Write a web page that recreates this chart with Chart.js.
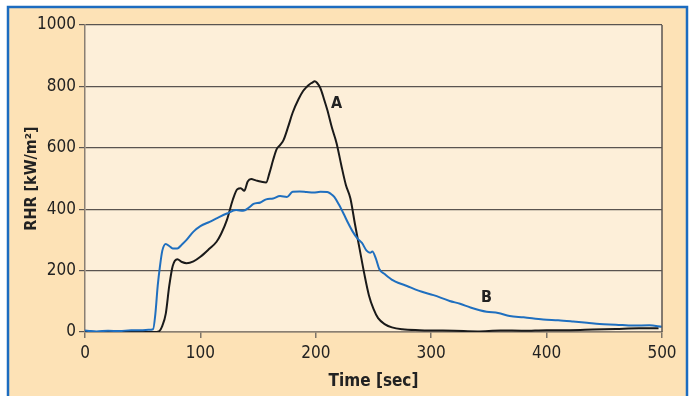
<!DOCTYPE html>
<html>
<head>
<meta charset="utf-8">
<script src="https://cdn.jsdelivr.net/npm/chart.js@4.4.1/dist/chart.umd.min.js"></script>
<style>
  html, body { margin: 0; padding: 0; background: #fff; }
  #wrap { width: 691px; height: 396px; }
</style>
</head>
<body>
<div id="wrap"><canvas id="chart" width="691" height="396"></canvas></div>
<script>
// DATI
const timeA = [0, 20, 40, 60, 64, 67, 70, 73, 76, 80, 84, 88, 94, 100, 108, 114, 118, 123, 128, 132, 135, 138, 141, 144, 148, 152, 157, 160, 163, 166, 169, 172, 176, 180, 185, 189, 192, 195, 197, 199, 201, 204, 207, 210, 214, 218, 222, 226, 230, 234, 238, 242, 246, 250, 254, 260, 266, 275, 290, 300, 320, 340, 360, 380, 400, 420, 440, 460, 480, 497];
const rhrA  = [0, 0, 0, 0, 2, 20, 60, 150, 215, 237, 228, 224, 230, 245, 272, 294, 320, 365, 430, 465, 468, 460, 490, 498, 494, 490, 487, 520, 560, 595, 609, 625, 668, 715, 758, 785, 798, 808, 812, 817, 812, 794, 760, 723, 665, 615, 545, 480, 435, 350, 270, 190, 120, 75, 45, 25, 15, 9, 6, 5, 4, 2, 5, 4, 6, 6, 8, 10, 12, 12];

const timeB = [0, 5, 10, 20, 30, 40, 50, 55, 59, 61, 63, 65, 67, 70, 73, 76, 80, 84, 88, 94, 100, 108, 115, 123, 131, 137, 142, 146, 152, 157, 163, 169, 175, 180, 186, 192, 198, 204, 210, 213, 216, 220, 224, 228, 232, 236, 240, 244, 247, 249, 252, 255, 260, 267, 273, 279, 286, 292, 302, 316, 325, 334, 348, 358, 368, 380, 397, 410, 423, 435, 446, 460, 475, 489, 500];
const rhrB  = [5, 3, 2, 4, 3, 6, 6, 7, 9, 60, 150, 215, 265, 287, 280, 272, 272, 285, 300, 327, 345, 359, 372, 386, 397, 395, 405, 417, 422, 432, 435, 443, 440, 457, 458, 456, 454, 457, 456, 450, 440, 415, 386, 355, 327, 305, 290, 265, 258, 262, 240, 205, 188, 168, 158, 150, 139, 131, 120, 101, 92, 80, 66, 62, 52, 48, 41, 38, 34, 30, 26, 24, 21, 22, 17];

const curveNames = ['A', 'B'];
const nameTime = [218, 348];
const nameRhr = [743, 111];

const xTicks = [0, 100, 200, 300, 400, 500];
const yTicks = [0, 200, 400, 600, 800, 1000];

const FONT = "'Liberation Sans Narrow', 'DejaVu Sans Condensed', 'Liberation Sans', sans-serif";

function toPoints(xs, ys) {
    return xs.map((x, i) => ({ x: x, y: ys[i] }));
}

// SFONDO E CORNICE
const framePlugin = {
    id: 'frame',
    beforeDraw(chart) {
        const c = chart.ctx;
        const a = chart.chartArea;
        c.save();
        c.fillStyle = '#ffffff';
        c.fillRect(0, 0, chart.width, chart.height);
        c.fillStyle = '#fde2b6';
        c.fillRect(8, 7, 679, chart.height - 7);
        c.strokeStyle = '#1c6cc0';
        c.lineWidth = 2.5;
        c.beginPath();
        c.moveTo(8, chart.height);
        c.lineTo(8, 7);
        c.lineTo(687, 7);
        c.lineTo(687, chart.height);
        c.stroke();
        c.fillStyle = '#fdefd9';
        c.fillRect(a.left, a.top, a.right - a.left, a.bottom - a.top);
        c.restore();
    },
    afterDraw(chart) {
        const c = chart.ctx;
        const a = chart.chartArea;
        c.save();
        c.strokeStyle = '#5a5450';
        c.lineWidth = 1.5;
        c.beginPath();
        c.moveTo(a.right, a.top);
        c.lineTo(a.right, a.bottom);
        c.stroke();
        c.restore();
    }
};

// ETICHETTE A / B
const namePlugin = {
    id: 'names',
    afterDatasetsDraw(chart) {
        const c = chart.ctx;
        const xs = chart.scales.x, ys = chart.scales.y;
        c.save();
        c.fillStyle = '#222';
        c.font = 'bold 16px ' + FONT;
        c.textAlign = 'center';
        c.textBaseline = 'middle';
        curveNames.forEach((n, i) => {
            c.fillText(n, xs.getPixelForValue(nameTime[i]), ys.getPixelForValue(nameRhr[i]));
        });
        c.restore();
    }
};

const ctx = document.getElementById('chart').getContext('2d');
new Chart(ctx, {
    type: 'line',
    data: {
        datasets: [
            {
                label: 'B',
                data: toPoints(timeB, rhrB),
                borderColor: '#1f6fbf',
                borderWidth: 2,
                pointRadius: 0,
                cubicInterpolationMode: 'monotone',
                order: 0
            },
            {
                label: 'A',
                data: toPoints(timeA, rhrA),
                borderColor: '#1a1a1a',
                borderWidth: 2,
                pointRadius: 0,
                cubicInterpolationMode: 'monotone',
                order: 1
            }
        ]
    },
    options: {
        responsive: false,
        animation: false,
        layout: { padding: { left: 0, top: 25, right: 29, bottom: 0 } },
        plugins: { legend: { display: false }, tooltip: { enabled: false } },
        scales: {
            x: {
                type: 'linear',
                min: 0,
                max: 500,
                afterBuildTicks: s => { s.ticks = xTicks.map(v => ({ value: v })); },
                afterFit: s => { s.height = 64; },
                ticks: { color: '#222', font: { family: FONT, size: 17 }, padding: 5, maxRotation: 0, callback: v => String(v) },
                grid: { drawOnChartArea: false, tickLength: 6, color: '#7d7469', lineWidth: 1.5 },
                border: { color: '#8a7f72', width: 1.5 },
                title: {
                    display: true,
                    text: 'Time [sec]',
                    color: '#222',
                    font: { family: FONT, size: 17, weight: 'bold' },
                    padding: { top: 2, bottom: 4 }
                }
            },
            y: {
                min: 0,
                max: 1000,
                afterBuildTicks: s => { s.ticks = yTicks.map(v => ({ value: v })); },
                afterFit: s => { s.width = 85; },
                ticks: { color: '#222', font: { family: FONT, size: 17 }, padding: 3, callback: v => String(v) },
                grid: { color: '#5a5450', lineWidth: 1.2, tickLength: 6 },
                border: { color: '#8a7f72', width: 1.5 },
                title: {
                    display: true,
                    text: 'RHR [kW/m²]',
                    color: '#222',
                    font: { family: FONT, size: 16, weight: 'bold' },
                    padding: { top: 22, bottom: 0 }
                }
            }
        }
    },
    plugins: [framePlugin, namePlugin]
});
</script>
</body>
</html>
